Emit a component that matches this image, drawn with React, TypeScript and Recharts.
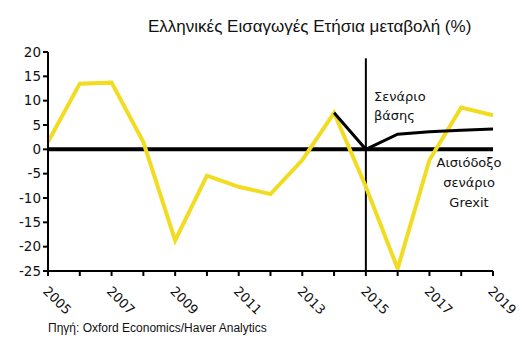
import { LineChart, Line, XAxis, YAxis, ReferenceLine } from 'recharts';

const years = [2005, 2006, 2007, 2008, 2009, 2010, 2011, 2012, 2013, 2014, 2015, 2016, 2017, 2018, 2019];
// Αισιόδοξο σενάριο Grexit (yellow)
const grexit = [1.5, 13.5, 13.7, 1.5, -18.7, -5.4, -7.7, -9.2, -2.2, 7.5, -7.7, -24.5, -2.2, 8.6, 7.0];
// Σενάριο βάσης (black), from 2014 on
const baseline = [null, null, null, null, null, null, null, null, null, 7.5, 0, 3.1, 3.6, 3.9, 4.2];
const yTicks = [-25, -20, -15, -10, -5, 0, 5, 10, 15, 20];

const data = years.map((year, i) => ({ year, grexit: grexit[i], baseline: baseline[i] }));

const FONT = 'DejaVu Sans, Verdana, sans-serif';
const NARROW = '"Liberation Sans Narrow", "Arial Narrow", "Liberation Sans", sans-serif';

// Year ticks on every year, labels only on odd years, rotated down-right
function YearTick({ x, y, payload }: { x?: number; y?: number; payload?: { value: number } }) {
  if (!payload || payload.value % 2 === 0) return null;
  const ty = (y ?? 0) + 14;
  return (
    <text
      x={x}
      y={ty}
      transform={`rotate(45, ${x}, ${ty})`}
      textAnchor="start"
      fontSize={13}
      fontFamily={FONT}
      fill="#111"
      dx={-4}
      dy={4}
    >
      {payload.value}
    </text>
  );
}

export default function App() {
  return (
    <div style={{ position: 'absolute', left: 0, top: 0, width: 523, height: 353, background: '#fff' }}>
      <div
        style={{
          position: 'absolute',
          top: 17,
          left: 148,
          width: 284,
          textAlign: 'center',
          fontFamily: NARROW,
          fontSize: 17,
          color: '#111',
          whiteSpace: 'nowrap',
        }}
      >
        Ελληνικές Εισαγωγές Ετήσια μεταβολή (%)
      </div>
      <LineChart width={523} height={353} data={data} margin={{ top: 52, right: 30, bottom: 0, left: 0 }}>
        <XAxis
          dataKey="year"
          type="number"
          domain={[2005, 2019]}
          ticks={years}
          interval={0}
          tick={<YearTick />}
          tickLine={{ stroke: '#000', strokeWidth: 2 }}
          tickSize={5}
          axisLine={{ stroke: '#000', strokeWidth: 2 }}
          height={82}
        />
        <YAxis
          type="number"
          domain={[-25, 20]}
          ticks={yTicks}
          interval={0}
          width={48}
          tick={{ fontSize: 13.5, fontFamily: FONT, fill: '#111' }}
          tickLine={{ stroke: '#000', strokeWidth: 2 }}
          tickSize={5}
          axisLine={{ stroke: '#000', strokeWidth: 2 }}
        />
        <ReferenceLine y={0} stroke="#000" strokeWidth={4} />
        <ReferenceLine
          segment={[
            { x: 2015, y: -25 },
            { x: 2015, y: 18.7 },
          ]}
          stroke="#000"
          strokeWidth={2}
        />
        <Line
          dataKey="grexit"
          stroke="#f2dc22"
          strokeWidth={4}
          dot={false}
          strokeLinejoin="miter"
          isAnimationActive={false}
        />
        <Line
          dataKey="baseline"
          stroke="#000"
          strokeWidth={3}
          dot={false}
          connectNulls={false}
          isAnimationActive={false}
        />
      </LineChart>
      <div style={{ position: 'absolute', left: 374, top: 87, fontFamily: FONT, fontSize: 13, lineHeight: '19px', color: '#111' }}>
        Σενάριο
        <br />
        βάσης
      </div>
      <div
        style={{
          position: 'absolute',
          left: 436,
          top: 153,
          width: 66,
          textAlign: 'center',
          fontFamily: FONT,
          fontSize: 13,
          lineHeight: '20px',
          color: '#111',
        }}
      >
        Αισιόδοξο
        <br />
        σενάριο
        <br />
        Grexit
      </div>
      <div style={{ position: 'absolute', left: 48, top: 321, fontFamily: NARROW, fontSize: 12, color: '#111' }}>
        Πηγή: Oxford Economics/Haver Analytics
      </div>
    </div>
  );
}
